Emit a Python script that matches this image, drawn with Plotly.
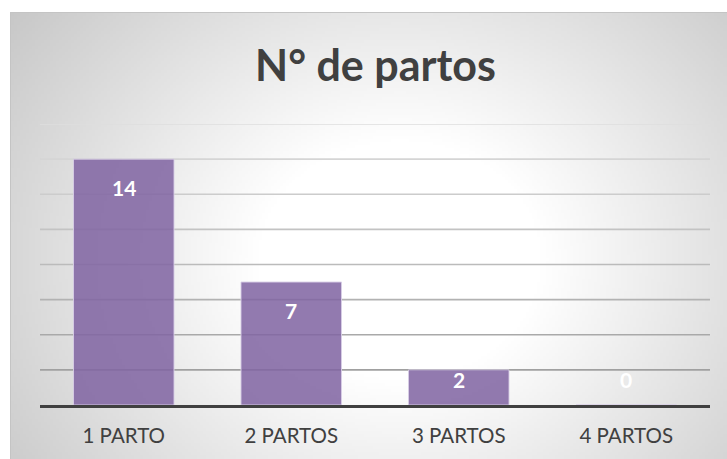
import base64, struct, zlib
import plotly.graph_objects as go

# ---- data ----
categories = ["1 PARTO", "2 PARTOS", "3 PARTOS", "4 PARTOS"]
values = [14, 7, 2, 0]
title_text = "N° de partos"
grid_ticks = [2, 4, 6, 8, 10, 12, 14, 16]

# ---- geometry (page px) ----
W, H = 727, 459
ML, MR, MT, MB = 40, 17, 124, 54
PW, PH = W - ML - MR, H - MT - MB
CH_L, CH_T = 10, 12  # chart-area top-left corner on page


def png_gradient(w, h, cx, cy, ax, ay):
    rows = b""
    for j in range(h):
        row = bytearray([0])
        for i in range(w):
            X = CH_L + (i + 0.5) * (W - CH_L) / w
            Y = CH_T + (j + 0.5) * (H - CH_T) / h
            d = (((X - cx) / ax) ** 2 + ((Y - cy) / ay) ** 2) ** 0.5
            t = min(max((d - 0.35) / 0.9, 0.0), 1.0)
            row.append(int(round(255 - 58 * t)))
        rows += bytes(row)

    def chunk(tag, data):
        c = tag + data
        return struct.pack(">I", len(data)) + c + struct.pack(">I", zlib.crc32(c) & 0xffffffff)

    ihdr = struct.pack(">IIBBBBB", w, h, 8, 0, 0, 0, 0)
    png = b"\x89PNG\r\n\x1a\n" + chunk(b"IHDR", ihdr) + chunk(b"IDAT", zlib.compress(rows, 9)) + chunk(b"IEND", b"")
    return "data:image/png;base64," + base64.b64encode(png).decode()


bg = png_gradient(240, 150, 400, 260, 400, 340)

def px_to_paper_x(px):
    return (px - ML) / PW

def px_to_paper_y(py):
    return (H - MB - py) / PH

fig = go.Figure()
fig.add_trace(go.Bar(
    x=categories, y=values, width=0.6,
    marker=dict(color="rgba(128,100,162,0.86)", line=dict(color="rgba(215,205,230,0.9)", width=1)),
    hoverinfo="x+y",
))

# data labels (white, bold, inside end)
for c, v in zip(categories, values):
    fig.add_annotation(x=c, y=max(v - 1.6, 1.43), text=f"<b>{v}</b>", showarrow=False,
                       font=dict(family="Lato", size=21, color="white"), yanchor="middle")

# gridlines with graded grey (lighter at top)
n = len(grid_ticks)
for k, t in enumerate(grid_ticks):
    g = int(round(160 + (222 - 160) * k / (n - 1)))
    fig.add_shape(type="line", xref="paper", yref="y", x0=0, x1=1, y0=t, y1=t,
                  line=dict(color=f"rgb({g},{g},{g})", width=1.6), layer="below")

# chart-area border
fig.add_shape(type="rect", xref="paper", yref="paper",
              x0=px_to_paper_x(CH_L + 0.5), x1=px_to_paper_x(W + 2),
              y0=px_to_paper_y(H + 2), y1=px_to_paper_y(CH_T + 0.5),
              line=dict(color="#c4c4c4", width=1), layer="below")

fig.add_layout_image(dict(
    source=bg, xref="paper", yref="paper",
    x=px_to_paper_x(CH_L), y=px_to_paper_y(CH_T),
    sizex=(W - CH_L) / PW, sizey=(H - CH_T) / PH,
    xanchor="left", yanchor="top", sizing="stretch", layer="below",
))

fig.add_annotation(text=f"<b>{title_text}</b>", xref="paper", yref="paper",
                   x=px_to_paper_x(375), y=px_to_paper_y(65), showarrow=False,
                   xanchor="center", yanchor="middle",
                   font=dict(family="Lato", size=43, color="#404040"))

fig.update_layout(
    width=W, height=H,
    margin=dict(l=ML, r=MR, t=MT, b=MB),
    paper_bgcolor="white", plot_bgcolor="rgba(0,0,0,0)",
    showlegend=False,
    bargap=0.4,
    xaxis=dict(showline=True, linecolor="#404040", linewidth=3, showgrid=False,
               ticks="", tickfont=dict(family="Lato", size=20.5, color="#404040"),
               ticklabelstandoff=10, fixedrange=True),
    yaxis=dict(range=[0, 16], showgrid=False, zeroline=False, showticklabels=False,
               fixedrange=True),
)

fig.write_html("out.html", config=dict(displayModeBar=False),
               post_script="document.body.style.margin='0';document.body.style.overflow='hidden';")
